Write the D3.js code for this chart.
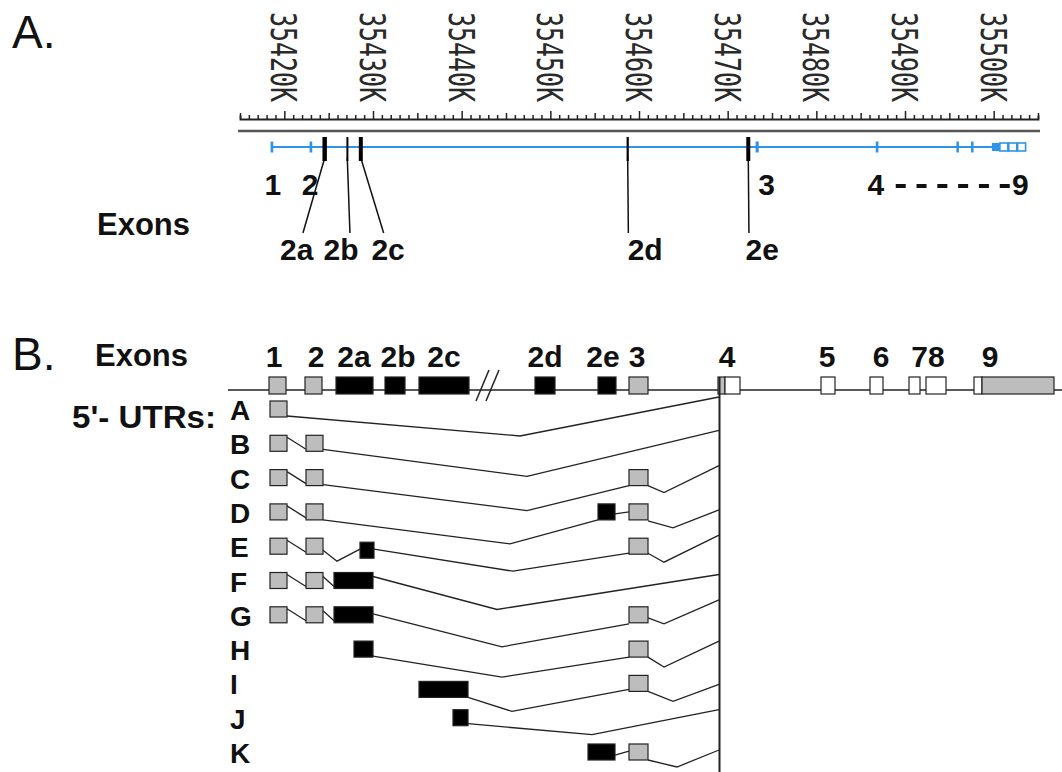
<!DOCTYPE html>
<html><head><meta charset="utf-8">
<script src="https://cdn.jsdelivr.net/npm/d3@7"></script>
<style>body{margin:0;background:#fff} svg{display:block}</style>
</head><body>
<svg id="chart" width="1062" height="772"></svg>
<script>
// ================= DATA =================
// Panel A – genomic ruler (kb)
const rulerDomainK = [35415, 35505];
const rulerTicksK = [35420, 35430, 35440, 35450, 35460, 35470, 35480, 35490, 35500];
const rulerTickLabels = ["35420K","35430K","35440K","35450K","35460K","35470K","35480K","35490K","35500K"];

// Panel A – gene model (kb)
const geneSpanK = [35418.6, 35503.6];
const blueExonStart = [35418.45, 35422.85, 35473.15, 35486.7, 35495.8, 35497.45, 35499.8, 35500.7, 35501.7, 35502.7];
const blueExonEnd   = [35418.75, 35423.15, 35473.5, 35487.0, 35496.05, 35497.65, 35500.7, 35501.6, 35502.6, 35503.6];
const blueExonFilled = [1, 1, 1, 1, 1, 1, 1, 0, 0, 0];

const altExonNames = ["2a", "2b", "2c", "2d", "2e"];
const altExonStart = [35424.3, 35427.0, 35428.4, 35458.6, 35472.1];
const altExonEnd   = [35424.8, 35427.2, 35428.85, 35458.85, 35472.55];
const altLeaderEndK = [35422.1, 35427.4, 35431.2, 35458.8, 35472.4];
const altLabelK = [35421.4, 35426.4, 35431.7, 35460.7, 35473.9];

const constExonLabels = ["1", "2", "3", "4", "9"];
const constExonLabelK = [35418.7, 35422.9, 35474.4, 35486.7, 35503.0];

// Panel B – schematic exon map (schematic units)
const bExonIds   = ["1","2","2a","2b","2c","2d","2e","3","4","5","6","7","8","9"];
const bExonStart = [269, 305, 336, 385, 419, 535, 598, 629, 718, 821, 870, 909, 926, 974];
const bExonEnd   = [286, 322, 373, 405, 469, 555, 616, 648, 740, 835, 883, 920, 946, 1054];
const bExonKind  = ["utr","utr","cds","cds","cds","cds","cds","utr","split4","open","open","open","open","split9"];
const bExonSplit = {"4": 725, "9": 982};
const bLabels  = ["1","2","2a","2b","2c","2d","2e","3","4","5","6","78","9"];
const bLabelX  = [274, 316, 354, 398, 444, 545, 603, 637, 727, 827, 881, 928, 990];
const bLineSpan = [228, 1062];
const bBreakAt = [476, 486];
const exon4Junction = 719.5;

// Panel B – 5'-UTR variants
const utrRows = ["A","B","C","D","E","F","G","H","I","J","K"];
// blocks: [start, end, type (g = non-coding grey, b = black), vertical shift]
const rowBlocks = {
  A: [[270,287,"g",0]],
  B: [[270,287,"g",0],[306,323,"g",0]],
  C: [[270,287,"g",0],[306,323,"g",0],[629,648,"g",0]],
  D: [[270,287,"g",0],[306,323,"g",0],[598,615,"b",0],[629,648,"g",0]],
  E: [[270,287,"g",0],[306,323,"g",0],[360,374,"b",4],[629,648,"g",0]],
  F: [[270,287,"g",0],[306,323,"g",0],[334,373,"b",0]],
  G: [[270,287,"g",0],[306,323,"g",0],[334,373,"b",0],[629,648,"g",0]],
  H: [[354,373,"b",0],[629,648,"g",0]],
  I: [[419,468,"b",6],[629,648,"g",0]],
  J: [[453,468,"b",0]],
  K: [[588,615,"b",0],[629,648,"g",0]]
};
// splice connectors: lists of [x, depth below row top]
const rowJoins = {
  A: [[[287,15],[520,35],[719,-4]]],
  B: [[[287,2],[306,14]], [[323,14],[527,41],[719,-5]]],
  C: [[[287,2],[306,14]], [[323,15],[527,41],[629,16]], [[648,16],[664,23],[719,-4]]],
  D: [[[287,2],[306,14]], [[323,16],[510,40],[598,16]], [[615,10],[629,8]], [[648,17],[673,24],[719,6]]],
  E: [[[287,2],[306,14]], [[323,12],[337,23],[360,11]], [[374,11],[513,33],[629,15]], [[648,15],[664,24],[719,-3]]],
  F: [[[287,2],[306,14]], [[323,4],[334,14]], [[373,4],[497,37],[719,2]]],
  G: [[[287,2],[306,14]], [[323,4],[334,14]], [[373,7],[502,40],[629,17]], [[648,11],[664,17],[719,-7]]],
  H: [[[373,15],[502,36],[629,16]], [[648,16],[664,26],[719,0]]],
  I: [[[468,22],[512,36],[629,14]], [[648,16],[673,26],[719,9]]],
  J: [[[468,14],[592,25],[719,0]]],
  K: [[[615,11],[629,7]], [[648,16],[677,23],[719,6]]]
};

// ================= DRAW =================
const svg = d3.select("#chart");
const FONT = "'Liberation Sans', Arial, Helvetica, sans-serif";
const BLUE = "#2f93ea";
const GREY = "#bdbdbd";

// ---------- Panel A ----------
const xA = d3.scaleLinear().domain(rulerDomainK).range([240, 1038]);
const gA = svg.append("g");

gA.append("text").attr("x", 12).attr("y", 48)
  .attr("font-family", FONT).attr("font-size", 46).attr("fill", "#111").text("A.");

const rulerY = 119;
const minorK = d3.range(rulerDomainK[0], rulerDomainK[1] + 0.5, 1);
const axis = d3.axisTop(xA).tickValues(minorK).tickSizeOuter(0).tickFormat("").tickSize(3.5);
const axG = gA.append("g").attr("transform", `translate(0,${rulerY})`).call(axis);
axG.select(".domain").attr("stroke", "#222").attr("stroke-width", 1.8);
axG.selectAll(".tick line")
  .attr("stroke", "#222").attr("stroke-width", 1.5)
  .attr("y2", d => -(d % 10 === 0 ? 8 : (d % 5 === 0 ? 6 : 4)));

gA.selectAll(".rlab").data(rulerTicksK).join("text")
  .attr("class", "rlab")
  .attr("transform", d => `translate(${xA(d)},12) rotate(90) scale(1,1.45)`)
  .attr("dy", "0.36em")
  .attr("font-family", "'DejaVu Sans Mono', monospace")
  .attr("font-size", 25)
  .attr("textLength", 90).attr("lengthAdjust", "spacingAndGlyphs")
  .attr("fill", "#2a2a2a")
  .text((d, i) => rulerTickLabels[i]);

// separator
gA.append("line").attr("x1", 238).attr("x2", 1040).attr("y1", 131).attr("y2", 131)
  .attr("stroke", "#555").attr("stroke-width", 2.5);

// gene line
const geneY = 147;
gA.append("line").attr("x1", xA(geneSpanK[0])).attr("x2", xA(geneSpanK[1]))
  .attr("y1", geneY).attr("y2", geneY).attr("stroke", BLUE).attr("stroke-width", 2.2);

const blueData = blueExonStart.map((s, i) => ({s, e: blueExonEnd[i], f: blueExonFilled[i]}));
gA.selectAll(".bex").data(blueData).join("rect")
  .attr("x", d => xA(d.s))
  .attr("width", d => Math.max(2.5, xA(d.e) - xA(d.s)))
  .attr("y", d => (xA(d.e) - xA(d.s) > 5 ? geneY - 4 : geneY - 5.5))
  .attr("height", d => (xA(d.e) - xA(d.s) > 5 ? 8 : 11))
  .attr("fill", d => d.f ? BLUE : "#fff")
  .attr("stroke", d => d.f ? "none" : BLUE)
  .attr("stroke-width", 1.6);

const altData = altExonNames.map((n, i) => ({n, s: altExonStart[i], e: altExonEnd[i], le: altLeaderEndK[i], lk: altLabelK[i]}));
gA.selectAll(".lead").data(altData).join("line")
  .attr("x1", d => (xA(d.s) + xA(d.e)) / 2).attr("y1", 158)
  .attr("x2", d => xA(d.le)).attr("y2", 233)
  .attr("stroke", "#111").attr("stroke-width", 1.5);
gA.selectAll(".aex").data(altData).join("rect")
  .attr("x", d => xA(d.s)).attr("width", d => Math.max(2, xA(d.e) - xA(d.s)))
  .attr("y", 137).attr("height", 24).attr("fill", "#000");
gA.selectAll(".alab").data(altData).join("text")
  .attr("x", d => xA(d.lk)).attr("y", 260).attr("text-anchor", "middle")
  .attr("font-family", FONT).attr("font-weight", "bold").attr("font-size", 30).attr("fill", "#111")
  .text(d => d.n);

gA.selectAll(".clab").data(constExonLabels).join("text")
  .attr("x", (d, i) => xA(constExonLabelK[i])).attr("y", 195).attr("text-anchor", "middle")
  .attr("font-family", FONT).attr("font-weight", "bold").attr("font-size", 30).attr("fill", "#111")
  .text(d => d);

// dashes between 4 and 9
gA.append("line")
  .attr("x1", xA(constExonLabelK[3]) + 20).attr("x2", xA(constExonLabelK[4]) - 10)
  .attr("y1", 186).attr("y2", 186)
  .attr("stroke", "#111").attr("stroke-width", 4).attr("stroke-dasharray", "10 10.8");

gA.append("text").attr("x", 97).attr("y", 235)
  .attr("font-family", FONT).attr("font-weight", "bold").attr("font-size", 31).attr("fill", "#111").text("Exons");

// ---------- Panel B ----------
const xB = d3.scaleLinear().domain(bLineSpan).range(bLineSpan);
const yRow = d3.scalePoint().domain(utrRows).range([401, 744]);
const gB = svg.append("g");

gB.append("text").attr("x", 12).attr("y", 370)
  .attr("font-family", FONT).attr("font-size", 46).attr("fill", "#111").text("B.");
gB.append("text").attr("x", 95).attr("y", 366)
  .attr("font-family", FONT).attr("font-weight", "bold").attr("font-size", 31).attr("fill", "#111").text("Exons");
gB.append("text").attr("x", 72).attr("y", 428)
  .attr("font-family", FONT).attr("font-weight", "bold").attr("font-size", 32)
  .attr("textLength", 144).attr("lengthAdjust", "spacingAndGlyphs")
  .attr("fill", "#111").text("5'- UTRs:");

gB.selectAll(".blab").data(bLabels).join("text")
  .attr("x", (d, i) => xB(bLabelX[i])).attr("y", 367).attr("text-anchor", "middle")
  .attr("font-family", FONT).attr("font-weight", "bold").attr("font-size", 30).attr("fill", "#111")
  .text(d => d);

const topLineY = 390, topBoxY = 377, topBoxH = 17;
gB.append("line").attr("x1", xB(bLineSpan[0])).attr("x2", xB(bLineSpan[1]))
  .attr("y1", topLineY).attr("y2", topLineY).attr("stroke", "#222").attr("stroke-width", 1.5);
// break marks
gB.selectAll(".brk").data(bBreakAt).join("line")
  .attr("x1", d => xB(d)).attr("y1", 401).attr("x2", d => xB(d + 13)).attr("y2", 370)
  .attr("stroke", "#222").attr("stroke-width", 1.5);

const topExons = bExonIds.map((id, i) => ({id, s: bExonStart[i], e: bExonEnd[i], k: bExonKind[i]}));
topExons.forEach(d => {
  const g = gB.append("g");
  if (d.k === "split4" || d.k === "split9") {
    const m = bExonSplit[d.id];
    g.append("rect").attr("x", xB(d.s)).attr("width", xB(m) - xB(d.s)).attr("y", topBoxY).attr("height", topBoxH)
      .attr("fill", d.k === "split4" ? GREY : "#fff").attr("stroke", "#222").attr("stroke-width", 1.2);
    g.append("rect").attr("x", xB(m)).attr("width", xB(d.e) - xB(m)).attr("y", topBoxY).attr("height", topBoxH)
      .attr("fill", d.k === "split4" ? "#fff" : GREY).attr("stroke", "#222").attr("stroke-width", 1.2);
  } else {
    g.append("rect").attr("x", xB(d.s)).attr("width", xB(d.e) - xB(d.s)).attr("y", topBoxY).attr("height", topBoxH)
      .attr("fill", d.k === "utr" ? GREY : d.k === "cds" ? "#000" : "#fff")
      .attr("stroke", "#222").attr("stroke-width", 1.2);
  }
});

// vertical junction to exon 4
gB.append("line").attr("x1", xB(exon4Junction)).attr("x2", xB(exon4Junction))
  .attr("y1", topBoxY).attr("y2", 772).attr("stroke", "#222").attr("stroke-width", 2);

// rows
const rowBoxH = 16;
const lineGen = d3.line();
utrRows.forEach(r => {
  const top = yRow(r);
  gB.append("text").attr("x", 230).attr("y", top + 19)
    .attr("font-family", FONT).attr("font-weight", "bold").attr("font-size", 28).attr("fill", "#111").text(r);
  gB.selectAll(null).data(rowJoins[r]).join("path")
    .attr("d", pts => lineGen(pts.map(p => [xB(p[0]), top + p[1]])))
    .attr("fill", "none").attr("stroke", "#222").attr("stroke-width", 1.3);
  gB.selectAll(null).data(rowBlocks[r]).join("rect")
    .attr("x", b => xB(b[0])).attr("width", b => xB(b[1]) - xB(b[0]))
    .attr("y", b => top + b[3]).attr("height", rowBoxH)
    .attr("fill", b => b[2] === "g" ? GREY : "#000")
    .attr("stroke", "#222").attr("stroke-width", 1.2);
});
</script>
</body></html>
